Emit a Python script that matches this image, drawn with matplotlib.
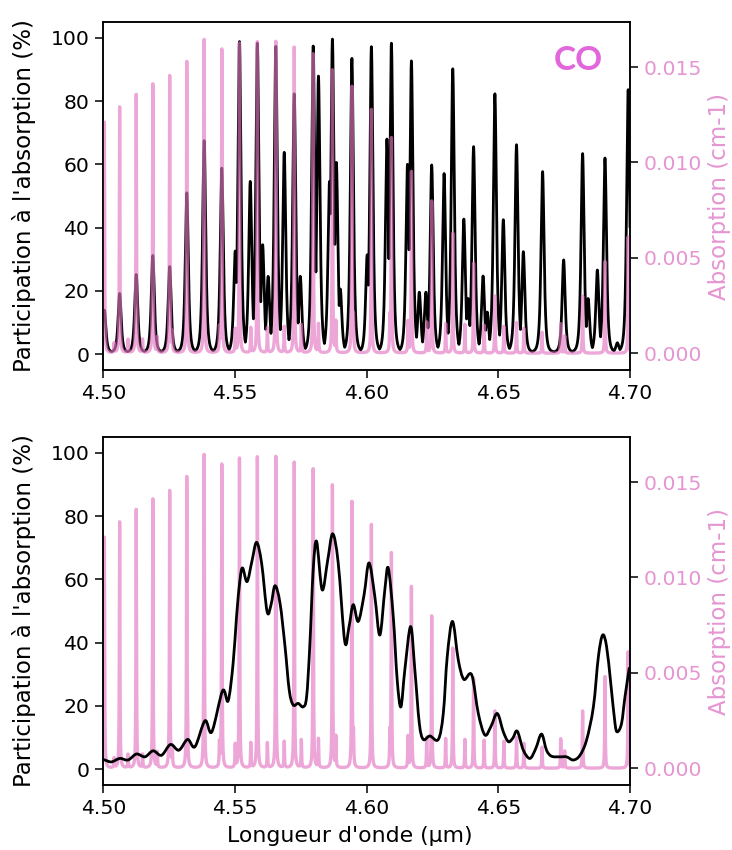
import numpy as np
import matplotlib
matplotlib.use("Agg")
import matplotlib.pyplot as plt
from matplotlib.path import Path
from matplotlib.patches import PathPatch

# ---------------- data ----------------
# CO absorption spectrum: main band lines (centre in um, peak absorption in cm-1)
co_main_um = [4.5004, 4.5062, 4.5125, 4.5188, 4.5252, 4.5317, 4.5383, 4.5450,
              4.5517, 4.5585, 4.5655, 4.5725, 4.5797, 4.5870, 4.5944, 4.6018,
              4.6094, 4.6170, 4.6247, 4.6327, 4.6406, 4.6487, 4.6569, 4.6737,
              4.6820, 4.6905, 4.6993]
co_main_abs = [0.01210, 0.01290, 0.01355, 0.01410, 0.01453, 0.01514, 0.01614, 0.01591,
               0.01624, 0.01631, 0.01633, 0.01603, 0.01568, 0.01483, 0.01392, 0.01277,
               0.01123, 0.00951, 0.00797, 0.00629, 0.00471, 0.00300, 0.00160, 0.00154,
               0.00300, 0.00480, 0.00610]
# weaker (hot band) lines
co_hot_um = [4.5041, 4.5094, 4.5149, 4.5205, 4.5262, 4.5320, 4.5381, 4.5441,
             4.5501, 4.5560, 4.5623, 4.5687, 4.5752, 4.5817, 4.5883, 4.5950,
             4.6088, 4.6157, 4.6228, 4.6300, 4.6373, 4.6446, 4.6521, 4.6597,
             4.6666, 4.6752]
co_hot_abs = [0.00050, 0.00070, 0.00070, 0.00080, 0.00100, 0.00100, 0.00110, 0.00120,
              0.00120, 0.00130, 0.00130, 0.00137, 0.00146, 0.00150, 0.00160, 0.00160,
              0.00170, 0.00163, 0.00160, 0.00154, 0.00150, 0.00146, 0.00140, 0.00130,
              0.00110, 0.00090]

# Top panel: participation (%) peaks at high resolution (centre um, height %)
part_hr_um = [4.5004, 4.5062, 4.5125, 4.5188, 4.5252, 4.5317, 4.5383, 4.5450,
              4.5517, 4.5585, 4.5655, 4.5725, 4.5797, 4.5870, 4.5944, 4.6018,
              4.6094, 4.6170, 4.6247, 4.6327, 4.6406, 4.6487, 4.6569, 4.6748,
              4.6820, 4.6905, 4.6993,
              4.5501, 4.5558, 4.5605, 4.5626, 4.5687, 4.5748, 4.5817, 4.5859,
              4.5885, 4.5900, 4.6002, 4.6077, 4.6155, 4.6200, 4.6225, 4.6294,
              4.6369, 4.6385, 4.6442, 4.6458, 4.6519, 4.6595, 4.6668, 4.6841,
              4.6876, 4.6952]
part_hr_pct = [13.3, 18.6, 24.6, 30.6, 27.1, 50.4, 66.9, 58.2,
               98.2, 97.7, 96.7, 81.7, 96.8, 99.0, 92.9, 96.6,
               97.7, 92.1, 59.2, 89.6, 65.0, 81.7, 65.6, 29.2,
               62.8, 61.4, 83.0,
               32.0, 54.0, 34.0, 24.0, 63.2, 24.0, 87.3, 54.0,
               60.0, 20.0, 30.8, 67.4, 59.4, 19.0, 19.0, 56.5,
               42.1, 17.0, 24.1, 12.7, 41.9, 31.8, 57.1, 17.0,
               26.0, 3.0]

# Bottom panel: participation (%) at low resolution
part_lr_um = [4.5000, 4.5006, 4.5031, 4.5063, 4.5094, 4.5126, 4.5158, 4.5189, 4.5221,
              4.5255, 4.5287, 4.5320, 4.5348, 4.5386, 4.5412, 4.5453, 4.5474,
              4.5493, 4.5506, 4.5519, 4.5529, 4.5546, 4.5565, 4.5582, 4.5601,
              4.5622, 4.5637, 4.5652, 4.5671, 4.5690, 4.5706, 4.5721, 4.5740,
              4.5759, 4.5772, 4.5784, 4.5797, 4.5810, 4.5831, 4.5852, 4.5871,
              4.5892, 4.5917, 4.5933, 4.5949, 4.5968, 4.5990, 4.6009, 4.6031,
              4.6050, 4.6069, 4.6082, 4.6101, 4.6116, 4.6130, 4.6145, 4.6167,
              4.6183, 4.6200, 4.6215, 4.6240, 4.6272, 4.6291, 4.6306, 4.6326,
              4.6348, 4.6369, 4.6399, 4.6424, 4.6449, 4.6472, 4.6496, 4.6519,
              4.6538, 4.6555, 4.6572, 4.6595, 4.6620, 4.6642, 4.6664, 4.6683,
              4.6702, 4.6734, 4.6759, 4.6785, 4.6810, 4.6835, 4.6861, 4.6880,
              4.6896, 4.6911, 4.6927, 4.6943, 4.6952, 4.6968, 4.6981, 4.6997]
part_lr_pct = [3.0, 2.9, 2.3, 3.4, 2.9, 4.8, 3.9, 5.8, 4.4,
               7.8, 6.0, 9.4, 7.1, 15.3, 11.8, 24.8, 21.6,
               33.5, 48.3, 59.9, 63.6, 59.3, 66.0, 71.7, 65.2,
               49.8, 52.0, 58.0, 52.5, 38.8, 25.0, 20.3, 20.8,
               19.7, 22.9, 38.8, 63.0, 72.0, 56.7, 66.0, 74.4,
               65.2, 40.3, 45.0, 52.0, 46.7, 55.0, 65.2, 54.6,
               42.4, 56.7, 63.6, 48.3, 28.2, 19.7, 31.4, 45.1,
               31.4, 14.5, 9.4, 10.5, 9.4, 17.6, 35.6, 46.7,
               34.5, 28.4, 29.8, 17.6, 10.8, 13.5, 17.6, 11.8,
               8.7, 9.8, 12.0, 6.0, 3.4, 6.5, 11.1, 6.0,
               4.1, 3.9, 3.9, 2.9, 4.4, 9.2, 19.7, 35.6,
               42.4, 38.8, 27.1, 14.5, 11.8, 14.5, 22.9, 31.9]

# ---------------- styling ----------------
PINK = "#e377c2"
PINK_TXT = "#e695d3"
CO_COL = "#e266dc"

wl = np.linspace(4.5, 4.7, 8001)


def line_sum(centres, heights, hwhm):
    c = np.asarray(centres)[:, None]
    h = np.asarray(heights)[:, None]
    return (h / (1.0 + ((wl[None, :] - c) / hwhm) ** 2)).sum(axis=0)


def line_max(centres, heights, width):
    c = np.asarray(centres)[:, None]
    h = np.asarray(heights)[:, None]
    return (h / (1.0 + ((wl[None, :] - c) / width) ** 2) ** 2).max(axis=0)


co_abs = line_sum(co_main_um, co_main_abs, 0.00012) + line_sum(co_hot_um, co_hot_abs, 0.00012)
part_hr = np.clip(line_max(part_hr_um, part_hr_pct, 0.00105) + 0.6, 0, 100)


def smooth_path(xs, ys):
    """Smooth Bezier path passing through the read points."""
    p = np.column_stack([xs, ys])
    n = len(p)
    verts = [p[0]]
    codes = [Path.MOVETO]
    for i in range(n - 1):
        p0 = p[max(i - 1, 0)]
        p1 = p[i]
        p2 = p[i + 1]
        p3 = p[min(i + 2, n - 1)]
        c1 = p1 + (p2 - p0) / 6.0
        c2 = p2 - (p3 - p1) / 6.0
        verts += [c1, c2, p2]
        codes += [Path.CURVE4] * 3
    return Path(np.array(verts), codes)


fig = plt.figure(figsize=(7.32, 8.5), dpi=100)
pos_top = [103.3 / 732, 1 - 370 / 850, (630 - 103.3) / 732, 348 / 850]
pos_bot = [103.3 / 732, 1 - 785 / 850, (630 - 103.3) / 732, 348 / 850]

TICK_FS = 14.7
LAB_FS = 16.5


def style(ax, ax2, xlabel):
    ax.set_xlim(4.5, 4.7)
    ax.set_xticks([4.50, 4.55, 4.60, 4.65, 4.70])
    ax.set_xticklabels(["4.50", "4.55", "4.60", "4.65", "4.70"])
    ax.set_ylim(-5, 105)
    ax.set_yticks([0, 20, 40, 60, 80, 100])
    ax2.set_ylim(-0.00088, 0.01736)
    ax2.set_yticks([0.0, 0.005, 0.010, 0.015])
    ax2.set_yticklabels(["0.000", "0.005", "0.010", "0.015"])
    for a in (ax, ax2):
        a.tick_params(labelsize=TICK_FS, length=6, width=1.1, direction="out", pad=4)
        for s in a.spines.values():
            s.set_linewidth(1.1)
    ax2.tick_params(axis="y", labelcolor=PINK_TXT)
    ax.set_ylabel("Participation à l'absorption (%)", fontsize=LAB_FS)
    ax.yaxis.set_label_coords(-0.128, 0.5)
    ax2.set_ylabel("Absorption (cm-1)", fontsize=LAB_FS, color=PINK_TXT)
    ax2.yaxis.set_label_coords(1.149, 0.5)
    if xlabel:
        ax.set_xlabel("Longueur d'onde (µm)", fontsize=15.8)
        ax.xaxis.set_label_coords(0.468, -0.118)


# top panel: pink drawn over black
ax1 = fig.add_axes(pos_top)
ax1.plot(wl, part_hr, color="black", lw=2.0)
ax2 = ax1.twinx()
ax2.plot(wl, co_abs, color=PINK, alpha=0.65, lw=2.4)
style(ax1, ax2, False)

# bottom panel: black drawn over pink
ax3 = fig.add_axes(pos_bot)
ax3.add_patch(PathPatch(smooth_path(part_lr_um, part_lr_pct), fill=False,
                        edgecolor="black", lw=2.0, capstyle="round", joinstyle="round"))
ax4 = ax3.twinx()
ax4.plot(wl, co_abs, color=PINK, alpha=0.65, lw=2.4)
ax3.set_zorder(ax4.get_zorder() + 1)
ax3.patch.set_visible(False)
style(ax3, ax4, True)

fig.text(578 / 732, 1 - 60 / 850, "CO", ha="center", va="center",
         fontsize=24, fontweight="bold", color=CO_COL, family=["Lato", "DejaVu Sans"])

fig.savefig("out.png", dpi=100)
